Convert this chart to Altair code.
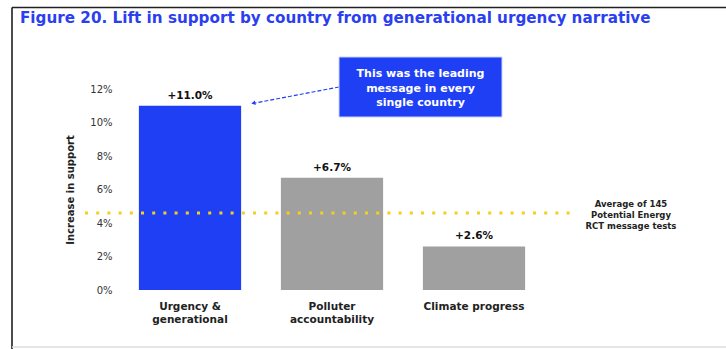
import altair as alt
import pandas as pd

categories = ["Urgency & generational", "Polluter accountability", "Climate progress"]
label_lines = [["Urgency &", "generational"], ["Polluter", "accountability"], ["Climate progress"]]
lift = [11.0, 6.7, 2.6]
highlight = [True, False, False]
average_value = 4.6
y_ticks = [0, 2, 4, 6, 8, 10, 12]

title_text = "Figure 20. Lift in support by country from generational urgency narrative"
callout_lines = ["This was the leading", "message in every", "single country"]
average_lines = ["Average of 145", "Potential Energy", "RCT message tests"]

BLUE = "#1f3ff5"
GRAY = "#a0a0a0"
YELLOW = "#f5cf1a"
FONT = "DejaVu Sans"

df = pd.DataFrame({"category": categories, "lift": lift, "highlight": highlight})

label_expr = " : ".join(
    [f"datum.value == '{c}' ? {lines!r}".replace('"', "'") for c, lines in zip(categories, label_lines)]
) + " : datum.value"

x_enc = alt.X(
    "category:N",
    sort=categories,
    scale=alt.Scale(paddingInner=0.28, paddingOuter=0.14),
    axis=alt.Axis(
        title=None, labelAngle=0, domain=False, ticks=False, labelFont=FONT,
        labelFontWeight="bold", labelFontSize=10.5, labelColor="#222222",
        labelPadding=11, labelLineHeight=13, labelExpr=label_expr,
    ),
)
y_enc = alt.Y(
    "lift:Q",
    scale=alt.Scale(domain=[0, 12], nice=False),
    axis=alt.Axis(
        title="Increase in support", values=y_ticks, labelExpr="datum.value + '%'",
        labelOverlap=False, domain=False, ticks=False, grid=False, labelFont=FONT,
        labelFontSize=10, labelColor="#333333", labelPadding=7, titleFont=FONT,
        titleFontWeight="bold", titleFontSize=10, titleColor="#222222", titlePadding=14,
    ),
)

base = alt.Chart(df)

bars = base.mark_bar().encode(
    x=x_enc,
    y=y_enc,
    color=alt.Color("highlight:N", scale=alt.Scale(domain=[True, False], range=[BLUE, GRAY]), legend=None),
)

values = base.transform_calculate(
    label="'+' + format(datum.lift, '.1f') + '%'"
).mark_text(font=FONT, fontWeight="bold", fontSize=10.5, color="#111111", baseline="bottom", dy=-5).encode(
    x=x_enc,
    y=y_enc,
    text="label:N",
)

avg_df = pd.DataFrame({"lift": [average_value]})

avg_line = alt.Chart(avg_df).mark_rule(
    color=YELLOW, strokeWidth=3, strokeDash=[3, 8.2]
).encode(x=alt.value(-34), x2=alt.value(456), y=y_enc)

avg_text = alt.Chart(avg_df).mark_text(
    font=FONT, fontWeight="bold", fontSize=8.5, color="#222222", align="center",
    baseline="middle", lineHeight=11, dy=-9,
).encode(x=alt.value(512), y=y_enc, text=alt.value(average_lines))

callout_box = alt.Chart(pd.DataFrame({"a": [0]})).mark_rect(
    color=BLUE, stroke="#c9d2ff", strokeWidth=1
).encode(x=alt.value(220), x2=alt.value(383), y=alt.value(-32), y2=alt.value(28))

callout_text = alt.Chart(pd.DataFrame({"a": [0]})).mark_text(
    font=FONT, fontWeight="bold", fontSize=11, color="white", align="center",
    baseline="middle", lineHeight=14.5,
).encode(x=alt.value(301.5), y=alt.value(-15), text=alt.value(callout_lines))

arrow_line = alt.Chart(pd.DataFrame({"a": [0]})).mark_rule(
    color=BLUE, strokeWidth=1.2, strokeDash=[4, 2]
).encode(x=alt.value(220), y=alt.value(-2), x2=alt.value(136), y2=alt.value(14))

arrow_head = alt.Chart(pd.DataFrame({"a": [0]})).mark_point(
    shape="triangle", filled=True, color=BLUE, size=22, angle=260, opacity=1
).encode(x=alt.value(135), y=alt.value(14))

title = alt.Chart(pd.DataFrame({"a": [0]})).mark_text(
    font=FONT, fontWeight="bold", fontSize=15.2, color="#2b3ff0", align="left", baseline="alphabetic",
).encode(x=alt.value(-99), y=alt.value(-66), text=alt.value(title_text))

frame_top = alt.Chart(pd.DataFrame({"a": [0]})).mark_rule(color="#222222", strokeWidth=1.5).encode(
    x=alt.value(-107), x2=alt.value(607), y=alt.value(-81.5))
frame_left = alt.Chart(pd.DataFrame({"a": [0]})).mark_rule(color="#111111", strokeWidth=1.5).encode(
    x=alt.value(-107), y=alt.value(-81.5), y2=alt.value(260))
frame_bottom = alt.Chart(pd.DataFrame({"a": [0]})).mark_rule(color="#dddddd", strokeWidth=1.5).encode(
    x=alt.value(-107), x2=alt.value(607), y=alt.value(258))

chart = alt.layer(
    bars, values, avg_line, avg_text, arrow_line, arrow_head, callout_box, callout_text,
    title, frame_top, frame_left, frame_bottom,
).properties(
    width=426, height=201,
    autosize=alt.AutoSizeParams(type="none"),
    padding={"left": 119, "top": 89, "right": 181, "bottom": 59},
    background="white",
).configure_view(stroke=None)

chart.save("out.html", embed_options={"renderer": "svg", "actions": False})
